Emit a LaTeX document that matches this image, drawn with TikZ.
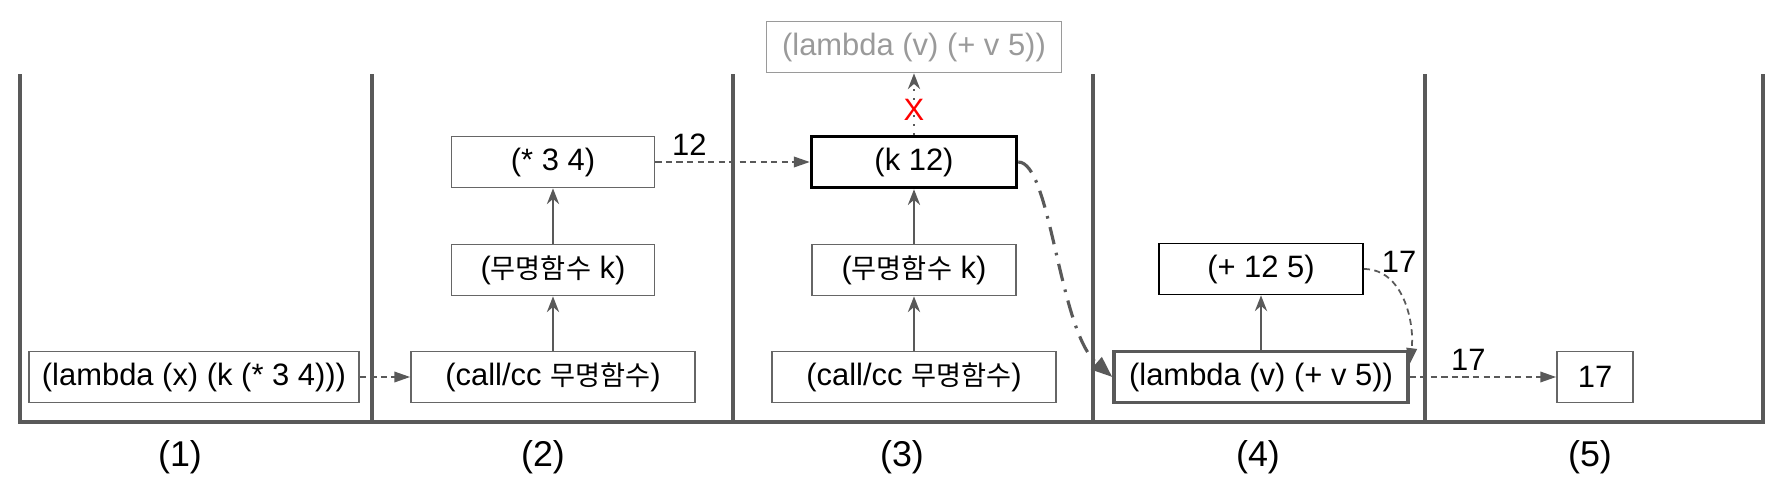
\documentclass[tikz,border=0pt]{standalone}
\usepackage{fontspec}
\setmainfont{Liberation Sans}
\newfontfamily\kor[Scale=0.88]{Noto Sans CJK KR}
\usetikzlibrary{arrows.meta}

\definecolor{wallgray}{HTML}{595959}
\definecolor{boxgray}{HTML}{666666}
\definecolor{ghostgray}{HTML}{9A9A9A}

\tikzset{
  frame/.style={draw=wallgray, line width=2.8pt},
  box/.style={draw=boxgray, line width=1pt, minimum height=1.02cm, inner sep=0pt},
  push/.style={draw=wallgray, line width=1pt, -{Stealth[length=9pt,width=7pt,inset=3pt]}},
  pass/.style={draw=wallgray, line width=1pt, dash pattern=on 3.5pt off 2.5pt, -{Triangle[length=9pt,width=6pt]}},
  cancel/.style={push, dash pattern=on 1pt off 4pt},
  jump/.style={draw=wallgray, line width=1.8pt, dash pattern=on 10pt off 5pt on 1.5pt off 5pt, -{Triangle[length=12pt,width=9pt]}}
}

\begin{document}
\begin{tikzpicture}[x=0.02cm, y=-0.02cm, font=\fontsize{17.6pt}{21pt}\selectfont]
    \useasboundingbox (0,0) rectangle (1782,490);

    % stack frames (1)--(5)
    \draw[frame] (20,74) -- (20,422) -- (1763,422) -- (1763,74);
    \foreach \x in {372,733,1093,1425} \draw[frame] (\x,74) -- (\x,422);
    \foreach \x/\n in {180/1,543/2,902/3,1258/4,1590/5}
        \node[font=\fontsize{20.4pt}{24pt}\selectfont] (lbl\n) at (\x,457) {(\n)};

    \node[box, minimum width=6.6cm] (lam1) at (194,377) {(lambda (x) (k (* 3 4)))};

    \node[box, minimum width=5.68cm] (call2) at (553,377) {(call/cc {\kor 무명함수})};
    \node[box, minimum width=4.06cm] (anon2) at (553,270) {({\kor 무명함수} k)};
    \node[box, minimum width=4.06cm] (mul) at (553,162) {(* 3 4)};

    \node[box, minimum width=5.68cm] (call3) at (914,377) {(call/cc {\kor 무명함수})};
    \node[box, minimum width=4.08cm] (anon3) at (914,270) {({\kor 무명함수} k)};
    \node[box, draw=black, line width=2pt, minimum width=4.1cm] (k12) at (914,162) {(k 12)};
    \node[box, draw=ghostgray, text=ghostgray, minimum width=5.9cm] (ghost) at (914,47) {(lambda (v) (+ v 5))};

    \node[box, draw=wallgray, line width=2pt, minimum width=5.88cm] (lam4) at (1261,377) {(lambda (v) (+ v 5))};
    \node[box, draw=black, minimum width=4.08cm] (add) at (1261,269) {(+ 12 5)};

    \node[box, minimum width=1.52cm] (res) at (1595,377) {17};

    \draw[pass] (lam1) -- (call2);
    \draw[push] (call2) -- (anon2);
    \draw[push] (anon2) -- (mul);
    \draw[pass] (mul) -- node[pos=0.22, above] {12} (k12);
    \draw[push] (call3) -- (anon3);
    \draw[push] (anon3) -- (k12);
    \draw[cancel] (k12) -- node[pos=0.4, text=red] {X} (ghost);
    \draw[jump] (k12.east) .. controls +(33,0) and +(-54,-47) .. (lam4.west);
    \draw[push] (lam4) -- (add);
    \draw[pass] (add.east) .. controls +(40,0) and +(5,-40) .. (lam4.5);
    \node (sum) at (1399,262) {17};
    \draw[pass] (lam4) -- node[pos=0.4, above] {17} (res);
\end{tikzpicture}
\end{document}
